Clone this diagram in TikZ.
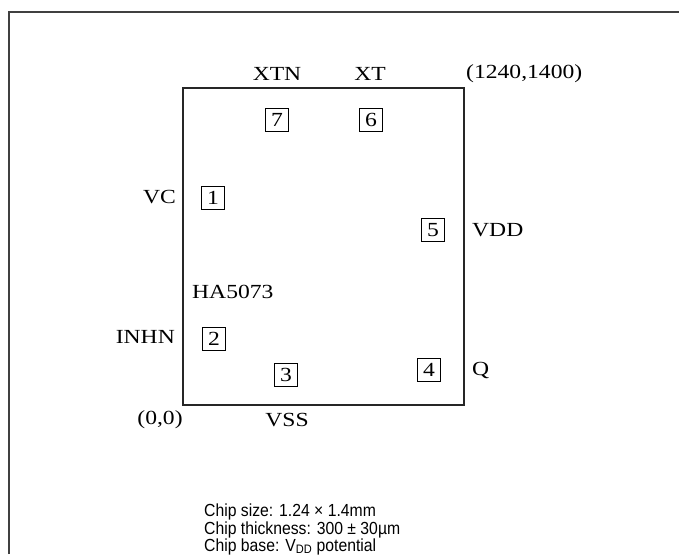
\documentclass[tikz,border=0pt]{standalone}
\usepackage{fontspec}
\setmainfont{Liberation Serif}[FakeStretch=1.18]
\newfontfamily\notefont{Liberation Sans}[FakeStretch=0.9]
\usepackage{tikz}
\usetikzlibrary{positioning}
\tikzset{
  pad/.style={draw, line width=0.8pt, minimum size=23pt, inner sep=0pt, font=\fontsize{20}{22}\selectfont},
  pinlabel/.style={font=\fontsize{20}{22}\selectfont, inner sep=0pt},
  note/.style={font=\notefont\fontsize{17.5}{18}\selectfont, anchor=west, inner sep=0pt}
}

\begin{document}
\begin{tikzpicture}[x=1pt, y=-1pt]
\useasboundingbox (0,0) rectangle (679,554);

% outer frame (top and left only)
\draw[line width=1.5pt, black!75] (9,554) -- (9,12) -- (679,12);

% chip outline
\coordinate (ll) at (183,405);
\coordinate (ur) at (464,88);
\draw[line width=1.2pt, black!85] (ll) rectangle (ur);

% bonding pads
\node[pad] (p1) at (213,198) {1};
\node[pad] (p2) at (214,339) {2};
\node[pad] (p3) at (286,375) {3};
\node[pad] (p4) at (429,370) {4};
\node[pad] (p5) at (433,230) {5};
\node[pad] (p6) at (371,120) {6};
\node[pad] (p7) at (277,120) {7};

% pin names
\node[pinlabel] (xtn) at (277,74) {XTN};
\node[pinlabel] (xt) at (370,74) {XT};
\node[pinlabel, anchor=east] (vc) at (176,197) {VC};
\node[pinlabel, anchor=west] (vdd) at (472,230) {VDD};
\node[pinlabel, anchor=east] (inhn) at (175,337) {INHN};
\node[pinlabel, anchor=west] (q) at (472,370) {Q};
\node[pinlabel] (vss) at (287,420) {VSS};
\node[pinlabel, anchor=west] (type) at (192,292) {HA5073};

% corner coordinates
\node[pinlabel, anchor=west] (cur) at (466,74) {(1240,1400)};
\node[pinlabel] (cll) at (160,420) {(0,0)};

% chip data
\node[note] (size) at (204,512) {Chip size: 1.24 × 1.4mm};
\node[note] (thick) at (204,529.5) {Chip thickness: 300 ± 30µm};
\node[note] (base) at (204,546.5) {Chip base: V\textsubscript{DD} potential};
\end{tikzpicture}
\end{document}
